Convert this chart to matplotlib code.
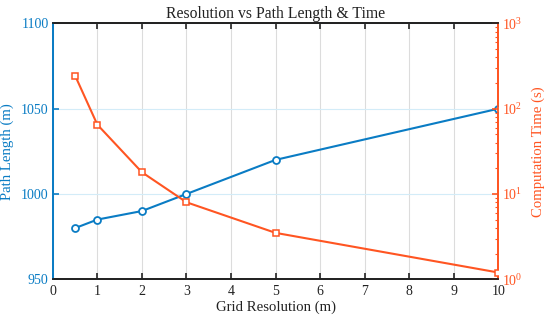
import matplotlib.pyplot as plt
from matplotlib.ticker import LogLocator, NullFormatter

plt.rcParams['font.family'] = ['Liberation Serif', 'DejaVu Serif']
plt.rcParams['mathtext.fontset'] = 'stix'

# data
resolution = [0.5, 1, 2, 3, 5, 10]
path_length = [980, 985, 990, 1000, 1020, 1050]
comp_time = [245, 65, 18, 8, 3.5, 1.2]

blue = '#0A7CC4'
orange = '#FF5522'

fig = plt.figure(figsize=(5.5, 3.21), dpi=100)
ax = fig.add_axes([0.096, 0.13, 0.81, 0.797])
ax2 = ax.twinx()

ax.plot(resolution, path_length, '-o', color=blue, lw=1.5, ms=5,
        mfc='white', mec=blue, mew=1.3, zorder=3)
ax2.plot(resolution, comp_time, '-s', color=orange, lw=1.5, ms=4.5,
         mfc='white', mec=orange, mew=1.1, zorder=3)

ax.set_xlim(0, 10)
ax.set_ylim(950, 1100)
ax.set_xticks(range(0, 11))
ax.set_yticks([950, 1000, 1050, 1100])
ax2.set_yscale('log')
ax2.set_ylim(1, 1000)
ax2.yaxis.set_major_locator(LogLocator(base=10, numticks=10))
ax2.yaxis.set_minor_locator(LogLocator(base=10, subs=range(2, 10), numticks=10))
ax2.yaxis.set_minor_formatter(NullFormatter())

# grid
ax.grid(axis='x', color='#DCDCDC', lw=0.8)
ax.grid(axis='y', color='#D3ECF8', lw=0.8)
ax.set_axisbelow(True)

ax.tick_params(axis='x', direction='in', top=True, length=4, width=1.2,
               colors='#222222', labelsize=10, pad=4)
ax.tick_params(axis='y', direction='in', length=4, width=1.2,
               colors=blue, labelsize=10, pad=3)
ax2.tick_params(axis='y', which='major', direction='in', length=4, width=1.2,
                colors=orange, labelsize=10, pad=3)
ax2.tick_params(axis='y', which='minor', direction='in', length=2.5,
                width=0.8, colors=orange)

for a in (ax, ax2):
    a.spines['top'].set_color('#222222')
    a.spines['bottom'].set_color('#222222')
    a.spines['left'].set_color(blue)
    a.spines['right'].set_color(orange)
    for s in a.spines.values():
        s.set_linewidth(1.3)

ax.set_xlabel('Grid Resolution (m)', fontsize=10.6, color='#222222', labelpad=2)
ax.set_ylabel('Path Length (m)', fontsize=10.6, color=blue, labelpad=5)
ax2.set_ylabel('Computation Time (s)', fontsize=10.6, color=orange, labelpad=6)
ax.set_title('Resolution vs Path Length & Time', fontsize=11.3,
             color='#222222', pad=4)

fig.savefig('out.png', dpi=100)
